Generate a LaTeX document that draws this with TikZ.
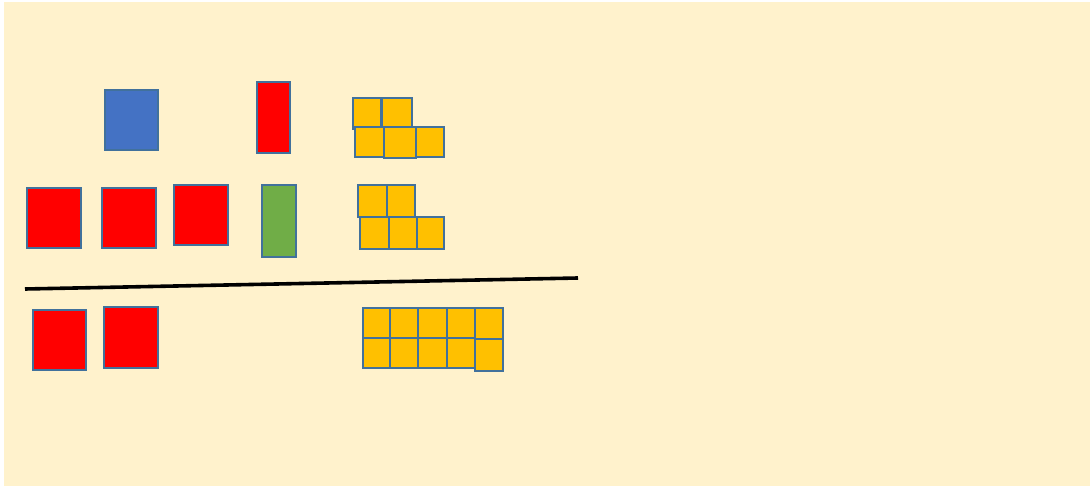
\documentclass[tikz,border=0pt]{standalone}
\usepackage{tikz}
\usetikzlibrary{positioning}
\definecolor{PaperYellow}{RGB}{255,242,204}
\definecolor{EdgeBlue}{RGB}{65,113,156}
\definecolor{TileRed}{RGB}{255,0,0}
\definecolor{TileBlue}{RGB}{68,114,196}
\definecolor{TileGreen}{RGB}{112,173,71}
\definecolor{TileGold}{RGB}{255,192,0}
\tikzset{
  tile/.style={draw=EdgeBlue,line width=2.8pt},
  redtile/.style={tile,fill=TileRed},
  bluetile/.style={tile,fill=TileBlue},
  greentile/.style={tile,fill=TileGreen},
  unit/.style={tile,fill=TileGold,line width=2.6pt},
  bar/.style={draw=black,line width=3.6pt},
}

\begin{document}
\begin{tikzpicture}[x=1pt,y=-1pt]
\useasboundingbox (0,0) rectangle (1090,486);
\fill[white] (0,0) rectangle (1090,486);
\fill[PaperYellow] (4,2) rectangle (1090,486);
% top row
\draw[bluetile] (105,90) rectangle (158,150);
\draw[redtile] (257,82) rectangle (290,153);
\draw[unit] (353,98) rectangle (381,129);
\draw[unit] (382,98) rectangle (412,127);
\draw[unit] (355,127) rectangle (384,157);
\draw[unit] (384,127) rectangle (416,158);
\draw[unit] (416,127) rectangle (444,157);
% middle row
\draw[redtile] (27,188) rectangle (81,248);
\draw[redtile] (102,188) rectangle (156,248);
\draw[redtile] (174,185) rectangle (228,245);
\draw[greentile] (262,185) rectangle (296,257);
\draw[unit] (358,185) rectangle (387,217);
\draw[unit] (387,185) rectangle (415,217);
\draw[unit] (360,217) rectangle (389,249);
\draw[unit] (389,217) rectangle (417,249);
\draw[unit] (417,217) rectangle (444,249);
% dividing line
\coordinate (barL) at (25,289);
\coordinate (barR) at (578,278);
\draw[bar] (barL) -- (barR);
% bottom row
\draw[redtile] (33,310) rectangle (86,370);
\draw[redtile] (104,307) rectangle (158,368);
\foreach \xa/\xb in {363/390,390/418,418/447,447/475}{
  \draw[unit] (\xa,308) rectangle (\xb,338);
  \draw[unit] (\xa,338) rectangle (\xb,368);
}
\draw[unit] (475,308) rectangle (503,339);
\draw[unit] (475,339) rectangle (503,371);
\end{tikzpicture}
\end{document}
